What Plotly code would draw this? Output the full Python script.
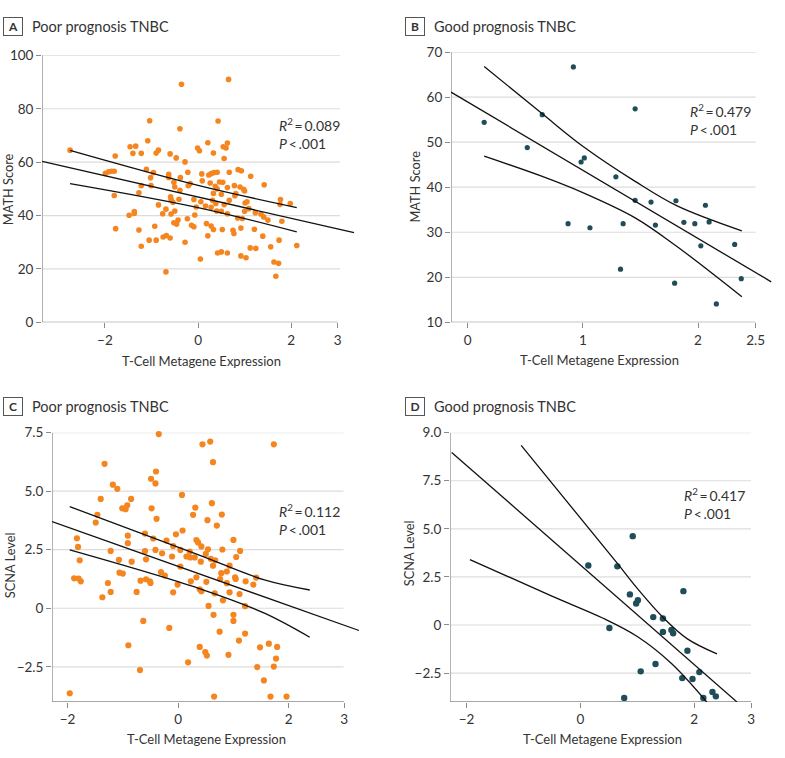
import plotly.graph_objects as go

W, H = 785, 758

# ---------------- data ----------------
a_x = [0.655,-0.356,-1.04,0.43,-0.39,0.63,0.21,-1.08,-1.34,-1.46,-2.75,-0.01,0.03,0.60,0.54,-0.85,-0.90,-1.40,-1.22,-0.60,
       0.33,0.56,-1.78,-0.47,-0.28,-1.11,-0.96,-1.99,-1.92,-1.86,-1.80,-0.22,0.08,0.23,0.28,0.34,0.41,0.67,0.86,0.93,
       1.13,1.42,-0.63,-0.63,-0.38,-1.02,-1.01,-1.22,0.09,0.26,0.46,0.53,0.37,0.41,0.63,0.78,0.90,0.98,1.0,-0.52,
       -0.17,-0.21,-0.50,-0.39,-0.59,-1.27,-1.80,0.33,0.50,0.81,0.79,-0.58,-0.41,-0.54,-0.09,0.06,0.31,0.38,0.67,1.01,
       1.05,1.77,1.76,1.98,0.16,0.28,0.56,-0.04,-0.85,-0.69,-0.50,0.40,0.50,1.00,1.09,1.23,1.35,1.41,1.50,0.63,
       -0.58,-0.76,-1.37,-1.37,-1.48,-0.07,-0.23,-0.43,0.85,0.95,1.80,-0.52,-0.46,-0.14,-0.09,-0.93,0.18,0.28,0.33,0.52,
       0.75,0.77,0.92,1.21,-1.77,-1.27,0.21,1.39,-0.75,-0.68,-0.60,-1.05,-0.90,-0.28,1.74,-1.22,1.56,1.12,1.24,2.12,
       0.42,0.50,0.63,0.92,1.03,0.05,1.63,1.73,1.67,-0.69]
a_y = [91.0,89.2,75.5,75.4,72.5,67.2,67.3,68.0,66.0,65.8,64.5,65.3,64.3,65.3,65.8,64.5,63.4,63.3,63.3,63.1,
       63.4,61.4,62.3,61.6,60.1,57.3,56.1,55.8,56.4,56.6,56.6,56.2,55.6,55.2,55.7,56.1,56.2,56.2,57.2,56.8,
       54.7,51.5,55.5,54.3,54.2,54.2,51.2,51.2,53.0,52.2,52.6,52.5,51.0,50.0,50.5,51.2,50.7,49.8,49.2,52.5,
       52.0,51.2,50.7,49.5,47.0,48.5,47.5,48.3,48.0,48.2,47.4,46.0,46.1,45.0,46.0,45.2,45.7,44.5,45.7,44.7,
       45.2,46.0,44.2,44.5,43.6,43.1,44.1,43.2,44.0,42.4,41.7,41.7,41.6,41.6,42.6,41.1,40.6,39.5,38.3,40.7,
       40.6,40.7,41.5,40.8,40.1,40.2,38.8,38.3,39.1,38.9,37.9,37.3,36.8,36.4,35.8,36.0,37.0,36.1,34.8,34.8,
       34.5,33.3,35.3,34.9,35.1,34.6,32.4,32.3,32.0,32.5,31.6,30.8,30.8,30.0,30.8,28.5,28.3,27.9,27.7,28.8,
       26.0,26.4,26.0,24.9,24.2,23.7,22.6,22.1,17.3,18.9]

b_x = [0.144,0.518,0.648,0.918,0.872,0.985,1.013,1.062,1.287,1.327,1.350,1.454,1.454,1.592,1.630,1.808,1.797,1.877,
       1.972,2.064,2.096,2.024,2.159,2.318,2.375]
b_y = [54.4,48.8,56.1,66.7,31.9,45.6,46.5,31.0,42.3,21.8,31.9,57.4,37.1,36.7,31.6,37.0,18.7,32.2,31.9,36.0,32.3,
       27.0,14.1,27.3,19.7]

c_x = [-0.35,0.44,0.58,1.73,0.63,-1.33,-0.40,-0.49,-0.41,-1.18,-1.10,0.07,-1.40,-0.85,-0.92,0.61,0.31,-1.01,-0.95,-0.48,
       -1.46,0.27,0.79,-0.39,0.53,-1.49,0.70,0.08,-0.60,-0.04,-0.45,-1.83,-0.91,1.0,0.33,0.36,-0.21,-0.91,-1.81,-0.09,
       0.42,0.54,0.80,-1.22,-0.60,-0.41,0.04,0.21,1.12,-0.29,0.50,0.15,0.22,0.30,1.05,-0.11,0.59,0.67,-1.78,-1.07,
       -0.58,-0.84,0.41,0.63,0.93,0.04,0.88,-0.31,-1.06,-1.00,-0.24,0.78,0.33,1.03,1.41,0.76,-1.88,-1.80,-1.76,1.04,
       0.23,-0.68,-0.58,-0.51,-0.50,0.51,1.22,-1.27,0.88,1.36,-0.01,0.39,0.42,-0.09,-0.75,-1.22,0.93,1.11,0.66,-1.37,
       0.81,0.55,1.21,0.64,1.0,1.0,-0.63,-0.16,0.75,1.21,1.10,-0.90,0.39,0.49,0.52,0.91,0.18,1.48,1.64,1.79,
       1.77,1.43,1.73,-0.69,1.55,-1.96,0.65,1.67,1.96]
c_y = [7.44,7.0,7.12,7.0,6.24,6.17,5.84,5.53,5.33,5.28,5.10,4.84,4.67,4.67,4.40,4.49,4.30,4.27,4.23,4.27,
       3.99,3.99,4.0,3.82,3.76,3.66,3.53,3.32,3.19,3.16,2.98,2.99,3.1,2.92,2.91,2.81,2.89,2.78,2.62,2.66,
       2.64,2.52,2.51,2.45,2.44,2.49,2.49,2.42,2.45,2.35,2.32,2.21,2.17,2.17,2.19,2.21,2.11,2.05,2.05,2.07,
       2.09,1.99,1.99,1.82,1.82,1.78,1.57,1.54,1.52,1.48,1.40,1.5,1.32,1.32,1.31,1.25,1.28,1.27,1.15,1.25,
       1.15,1.18,1.24,1.15,1.08,1.13,1.15,1.08,1.07,1.01,1.01,0.81,0.73,0.68,0.70,0.70,0.68,0.61,0.64,0.47,
       0.34,0.10,0.09,-0.28,-0.28,-0.54,-0.54,-0.84,-1.0,-1.08,-1.38,-1.58,-1.65,-1.87,-2.02,-1.99,-2.31,-1.67,-1.51,-1.65,
       -2.15,-2.51,-2.49,-2.64,-3.08,-3.63,-3.77,-3.77,-3.77]

d_x = [0.14,0.65,0.92,0.87,1.01,0.98,1.28,1.45,1.45,1.60,1.63,1.81,1.88,0.51,1.32,1.06,2.09,1.79,1.97,0.77,2.16,2.32,2.38]
d_y = [3.09,3.05,4.62,1.59,1.29,1.12,0.41,0.34,-0.36,-0.26,-0.43,1.76,-1.34,-0.16,-2.03,-2.41,-2.45,-2.76,-2.81,-3.79,
       -3.79,-3.48,-3.71]

# regression fit and confidence-band lines
a_fit_x, a_fit_y = [-3.35, 3.35], [60.3, 33.6]
a_up_x, a_up_y = [-2.75, 0.0, 2.12], [64.4, 51.3, 43.0]
a_lo_x, a_lo_y = [-2.75, 0.0, 2.12], [52.0, 43.0, 33.9]

b_fit_x, b_fit_y = [-0.144, 2.635], [61.1, 19.0]
b_up_x, b_up_y = [0.144, 0.648, 1.0, 1.454, 1.814, 2.38], [66.8, 56.3, 49.1, 41.3, 35.9, 30.3]
b_lo_x, b_lo_y = [0.144, 0.648, 1.0, 1.454, 1.814, 2.38], [46.9, 42.4, 38.8, 33.2, 26.9, 15.7]

c_fit_x, c_fit_y = [-2.28, 3.27], [3.70, -0.95]
c_up_x, c_up_y = [-1.96, 0.37, 1.56, 2.38], [4.34, 2.28, 1.21, 0.78]
c_lo_x, c_lo_y = [-1.96, 0.37, 1.56, 2.38], [2.49, 0.85, -0.21, -1.24]

d_fit_x, d_fit_y = [-2.26, 2.75], [8.97, -4.0]
d_up_x, d_up_y = [-1.04, 0.65, 1.0, 1.45, 1.88, 2.40], [9.34, 3.2, 1.9, 0.4, -0.72, -1.5]
d_lo_x, d_lo_y = [-1.94, -0.5, 0.4, 1.0, 1.6, 2.22], [3.40, 1.5, 0.35, -0.6, -2.0, -4.0]

# ticks
a_xticks = [-2, 0, 2, 3]
a_yticks = [0, 20, 40, 60, 80, 100]
b_xticks = [0, 1, 2, 2.5]
b_yticks = [10, 20, 30, 40, 50, 60, 70]
c_xticks = [-2, 0, 2, 3]
c_yticks = [-2.5, 0, 2.5, 5, 7.5]
c_yticktext = ["\u22122.5", "0", "2.5", "5.0", "7.5"]
d_xticks = [-2, 0, 2, 3]
d_yticks = [-2.5, 0, 2.5, 5, 7.5, 10]
d_yticktext = ["\u22122.5", "0", "2.5", "5.0", "7.5", "9.0"]

ORANGE = "#f5861f"
TEAL = "#1f4d5a"
GRID = "#dcdcdc"
AXIS = "#8a8a8a"
TXT = "#333333"
FONT = "Lato"

VS = 0.98   # vertical compensation observed in the rendered photo
VC = 379.0


def dx(px):
    return px / W


def dy(py):
    return 1 - (VC + (py - VC) / VS) / H


fig = go.Figure()

panels = [
    dict(x=a_x, y=a_y, c=ORANGE, s=5.6, fit=(a_fit_x, a_fit_y), up=(a_up_x, a_up_y), lo=(a_lo_x, a_lo_y), xa="x", ya="y"),
    dict(x=b_x, y=b_y, c=TEAL, s=5.2, fit=(b_fit_x, b_fit_y), up=(b_up_x, b_up_y), lo=(b_lo_x, b_lo_y), xa="x2", ya="y2"),
    dict(x=c_x, y=c_y, c=ORANGE, s=6.2, fit=(c_fit_x, c_fit_y), up=(c_up_x, c_up_y), lo=(c_lo_x, c_lo_y), xa="x3", ya="y3"),
    dict(x=d_x, y=d_y, c=TEAL, s=6.4, fit=(d_fit_x, d_fit_y), up=(d_up_x, d_up_y), lo=(d_lo_x, d_lo_y), xa="x4", ya="y4"),
]

for p in panels:
    fig.add_trace(go.Scatter(x=p["x"], y=p["y"], mode="markers", xaxis=p["xa"], yaxis=p["ya"],
                             marker=dict(color=p["c"], size=p["s"], line=dict(width=0)),
                             cliponaxis=False, showlegend=False, hoverinfo="skip"))
    for key in ("fit", "up", "lo"):
        xs, ys = p[key]
        fig.add_trace(go.Scatter(x=xs, y=ys, mode="lines", xaxis=p["xa"], yaxis=p["ya"],
                                 line=dict(color="#111111", width=1.3, shape="spline", smoothing=1.0),
                                 showlegend=False, hoverinfo="skip"))

axes = [
    ("xaxis", "yaxis", [-3.35, 3.4], [0, 100], (42.3, 358.2), (55, 322.3), a_xticks, a_yticks, None, 3, 3.05, "y", "x"),
    ("xaxis2", "yaxis2", [-0.144, 2.65], [10, 70], (453.3, 776.9), (51.7, 322.3), b_xticks, b_yticks, None, 2.5, 2.5, "y2", "x2"),
    ("xaxis3", "yaxis3", [-2.28, 3.3], [-4.0, 7.5], (52.3, 362.5), (432.7, 702.3), c_xticks, c_yticks, c_yticktext, 3, 2.99, "y3", "x3"),
    ("xaxis4", "yaxis4", [-2.29, 3.0], [-4.0, 10.0], (452.3, 755.0), (432.7, 702.3), d_xticks, d_yticks, d_yticktext, 3, 3.0, "y4", "x4"),
]

shapes = []
layout_axes = {}
for xk, yk, xr, yr, xdp, ydp, xt, yt, ytt, xend, gend, yref, xref in axes:
    layout_axes[xk] = dict(range=xr, domain=[dx(xdp[0]), dx(xdp[1])], anchor=yref,
                           tickvals=xt, ticktext=[("\u2212" + str(abs(v)) if v < 0 else str(v)) for v in xt],
                           showgrid=False, zeroline=False, showline=False,
                           ticks="outside", ticklen=5, tickcolor=AXIS, tickwidth=1,
                           tickfont=dict(size=13.5, color=TXT, family=FONT), fixedrange=True)
    yd = dict(range=yr, domain=[dy(ydp[1]), dy(ydp[0])], anchor=xref,
              tickvals=yt, showgrid=False, zeroline=False, showline=False,
              ticks="outside", ticklen=5, tickcolor=AXIS, tickwidth=1,
              tickfont=dict(size=13.5, color=TXT, family=FONT), fixedrange=True)
    if ytt:
        yd["ticktext"] = ytt
    layout_axes[yk] = yd
    for v in yt:
        if v == yr[0]:
            continue
        shapes.append(dict(type="line", xref=xref, yref=yref, x0=xr[0], x1=gend, y0=v, y1=v,
                           line=dict(color=GRID, width=1.2), layer="below"))
    shapes.append(dict(type="line", xref=xref, yref=yref, x0=xr[0], x1=xend, y0=yr[0], y1=yr[0],
                       line=dict(color=AXIS, width=1.3), layer="below"))
    shapes.append(dict(type="line", xref=xref, yref=yref, x0=xr[0], x1=xr[0], y0=yr[0], y1=yr[1],
                       line=dict(color=AXIS, width=1.3), layer="below"))

annotations = []


def ann(text, px, py, size=13, xanchor="left", yanchor="middle", angle=0, **kw):
    d = dict(text=text, x=dx(px), y=dy(py), xref="paper", yref="paper", showarrow=False,
             xanchor=xanchor, yanchor=yanchor, textangle=angle,
             font=dict(size=size, color=TXT, family=FONT))
    d.update(kw)
    annotations.append(d)


for letter, bx, by, title in [("A", 3.3, 26.3, "Poor prognosis TNBC"), ("B", 407.3, 26.3, "Good prognosis TNBC"),
                              ("C", 3.3, 406.3, "Poor prognosis TNBC"), ("D", 407.3, 406.3, "Good prognosis TNBC")]:
    ann("<b>" + letter + "</b>", bx, by, size=12, xanchor="left", bordercolor="#555555", borderwidth=1,
        borderpad=1, width=16, height=15, align="center")
    ann(title, bx + 26.5, by, size=14.5)

stats = [("089", 278, 113), ("479", 692, 99), ("112", 278, 499), ("417", 685, 483)]
for val, sx, sy in stats:
    ann("<i>R</i><sup>2</sup>\u2009=\u20090.%s<br><i>P</i>\u2009<\u2009.001" % val, sx, sy,
        size=14, yanchor="top", align="left")

ann("MATH Score", 8, 189, size=12.8, xanchor="center", angle=-90)
ann("MATH Score", 390 + 27.5, 186, size=12.8, xanchor="center", angle=-90)
ann("SCNA Level", 9.5, 380 + 185, size=12.8, xanchor="center", angle=-90)
ann("SCNA Level", 390 + 20.5, 380 + 173, size=12.8, xanchor="center", angle=-90)
ann("T-Cell Metagene Expression", 202.5, 360.5, size=13, xanchor="center")
ann("T-Cell Metagene Expression", 390 + 213, 359.5, size=13, xanchor="center")
ann("T-Cell Metagene Expression", 208, 380 + 359.5, size=13, xanchor="center")
ann("T-Cell Metagene Expression", 390 + 216, 380 + 359.5, size=13, xanchor="center")

fig.update_layout(width=W, height=H, margin=dict(l=0, r=0, t=0, b=0),
                  paper_bgcolor="white", plot_bgcolor="white",
                  font=dict(family=FONT, color=TXT, size=13),
                  shapes=shapes, annotations=annotations, showlegend=False, **layout_axes)

post = ("document.documentElement.style.margin='0';document.documentElement.style.overflow='hidden';"
        "document.body.style.margin='0';document.body.style.padding='0';document.body.style.overflow='hidden';"
        "var gd=document.getElementById('{plot_id}');gd.style.position='fixed';gd.style.left='0px';gd.style.top='0px';")
fig.write_html("out.html", config={"displayModeBar": False}, post_script=post)
